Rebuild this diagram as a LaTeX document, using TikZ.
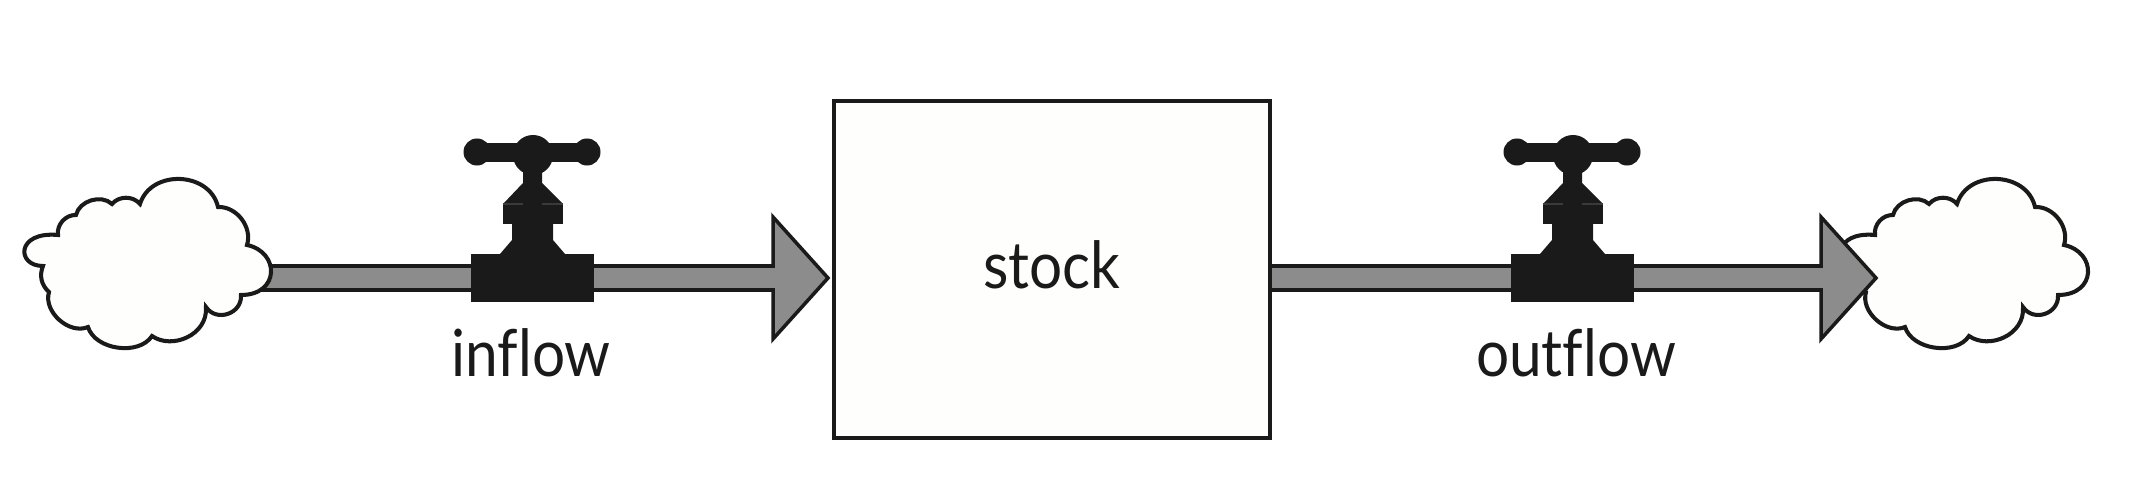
\documentclass[tikz,border=0pt]{standalone}
\usepackage{fontspec}
\setmainfont[FakeStretch=0.9,Ligatures=NoCommon]{Lato}
\usetikzlibrary{calc}

\definecolor{inkblack}{HTML}{1A1A1A}
\definecolor{seamgray}{HTML}{3A3A3A}
\definecolor{pipegray}{HTML}{8C8C8C}
\definecolor{paperwhite}{HTML}{FEFEFD}

\tikzset{
    flowline/.style={draw=inkblack, fill=pipegray, line width=1pt, line join=miter},
    stockbox/.style={draw=inkblack, fill=paperwhite, line width=1.3pt, inner sep=0pt},
    flowlabel/.style={text=inkblack, font=\fontsize{18.5}{22}\selectfont, anchor=base, inner sep=0pt},
    cloudshape/.pic={
        \draw[draw=inkblack, fill=paperwhite, line width=1.15pt]
            (43,266) .. controls (16,266) and (16,231) .. (58,235)
            to[bend left=50] (76,215)
            to[bend left=60] (112,204)
            to[bend left=50] (140,204)
            to[bend left=75, looseness=1.2] (218,207)
            to[bend left=55] (247,245)
            .. controls (280,252) and (280,295) .. (241,295)
            to[bend left=75, looseness=1.3] (206,307)
            .. controls (208,335) and (172,350) .. (152,336)
            to[bend left=65, looseness=0.95] (88,327)
            to[bend left=65] (49,292)
            to[bend left=35] cycle;
    },
    valveshape/.pic={
        \fill[inkblack] (-62,-24) rectangle (61,24);
        \fill[inkblack] (-33,-24) -- (-21,-38) -- (-21,-54) -- (20,-54) -- (20,-38) -- (32,-24) -- cycle;
        \fill[inkblack] (-30,-54) rectangle (30,-74);
        \fill[inkblack] (-30,-74) -- (-10,-95) -- (-10,-112) -- (9,-112) -- (9,-95) -- (30,-74) -- cycle;
        \draw[seamgray, line width=0.3pt] (-30,-74) -- (-10,-74) (9,-74) -- (30,-74);
        \fill[inkblack] (-56,-135) rectangle (54,-116);
        \fill[inkblack] (-56,-126) circle[radius=0.135cm];
        \fill[inkblack] (54,-126) circle[radius=0.135cm];
        \fill[inkblack] (0,-123) circle[radius=0.2cm];
    }
}

\newcommand{\flowarrow}[2]{
    \draw[flowline] ($(#1)+(0,-12)$) -- ($(#2)+(-55,-12)$) -- ($(#2)+(-55,-61)$) -- (#2)
        -- ($(#2)+(-55,61)$) -- ($(#2)+(-55,12)$) -- ($(#1)+(0,12)$) -- cycle;
}

\begin{document}
\begin{tikzpicture}[x=0.01cm, y=-0.01cm]

\useasboundingbox (0,0) rectangle (2134,488);

\coordinate (inletA) at (240,278);
\coordinate (tipA) at (828,278);
\coordinate (inletB) at (1270,278);
\coordinate (tipB) at (1876,278);

\flowarrow{inletA}{tipA}
\pic (cloudA) at (0,0) {cloudshape};

\pic (cloudB) at (1817,0) {cloudshape};
\flowarrow{inletB}{tipB}

\node[stockbox, minimum width=4.36cm, minimum height=3.37cm, text height=0.53cm, text depth=0.16cm,
    font=\fontsize{18.5}{22}\selectfont, text=inkblack] (stock) at (1052,269.5) {stock};

\pic (valveA) at (533,278) {valveshape};
\pic (valveB) at (1573,278) {valveshape};

\node[flowlabel] (inflow) at (531,376) {inflow};
\node[flowlabel] (outflow) at (1576,376) {outflow};

\end{tikzpicture}
\end{document}
